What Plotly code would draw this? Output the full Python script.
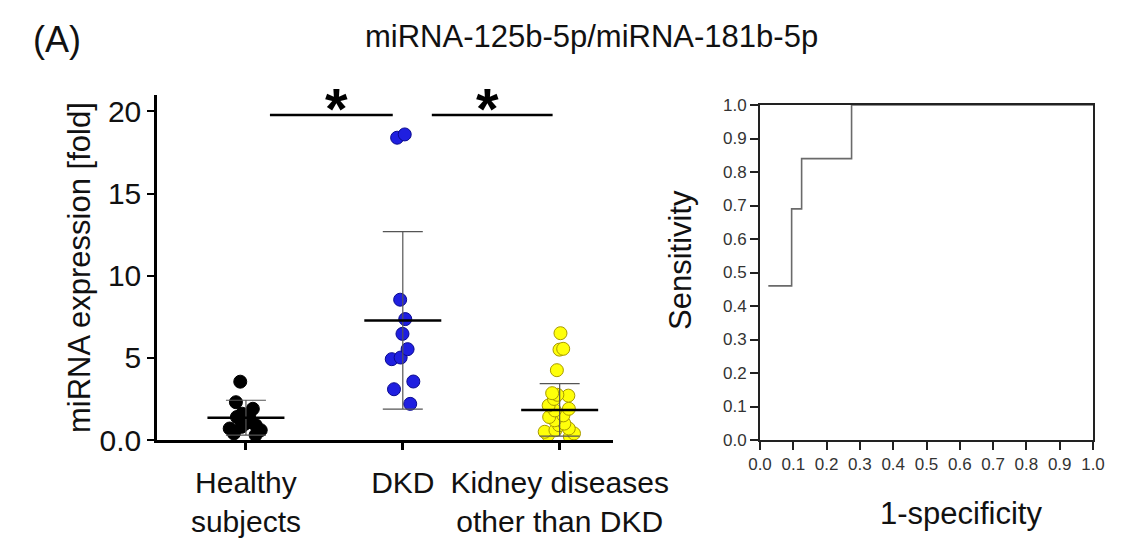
import plotly.graph_objects as go

# ---------------- data ----------------
categories = ["Healthy<br>subjects", "DKD", "Kidney diseases<br>other than DKD"]
healthy_vals = [3.55, 2.3, 1.9, 1.6, 1.5, 1.4, 1.2, 1.1, 1.0, 0.9, 0.8, 0.7, 0.6, 0.4, 0.3]
dkd_vals = [18.6, 18.4, 8.54, 7.36, 6.46, 5.53, 5.02, 4.92, 3.56, 3.09, 2.2]
other_vals = [6.5, 5.55, 5.5, 4.25, 2.85, 2.75, 2.7, 2.5, 2.1, 1.9, 1.8, 1.5, 1.4,
              1.2, 1.0, 0.9, 0.7, 0.6, 0.5, 0.4, 0.3, 0.2]
group_means = [1.36, 7.28, 1.83]
group_sds = [1.06, 5.4, 1.6]
y_tickvals = [0, 5, 10, 15, 20]
y_ticktext = ["0.0", "5", "10", "15", "20"]

roc_fpr = [0.025, 0.095, 0.125, 0.275, 1.0]
roc_tpr = [0.46, 0.69, 0.84, 1.0, 1.0]
roc_ticks = [0.0, 0.1, 0.2, 0.3, 0.4, 0.5, 0.6, 0.7, 0.8, 0.9, 1.0]

FONT = "Liberation Sans, Arial, sans-serif"
W, H = 1127, 539

fig = go.Figure()

groups = [
    (healthy_vals, "#000000", "#000000", 0.35),
    (dkd_vals, "#1f1fe0", "#0a0a90", 0.26),
    (other_vals, "#ffff0a", "#a89a00", 0.36),
]
for i, (vals, fill, edge, jit) in enumerate(groups):
    fig.add_trace(go.Box(
        x=[i] * len(vals), y=vals, boxpoints="all", jitter=jit, pointpos=0,
        fillcolor="rgba(0,0,0,0)", line=dict(width=0, color="rgba(0,0,0,0)"),
        whiskerwidth=0,
        marker=dict(size=13, color=fill, line=dict(color=edge, width=1)),
        showlegend=False, xaxis="x", yaxis="y", width=0.7,
    ))

# mean +/- SD
for i in range(3):
    fig.add_trace(go.Scatter(
        x=[i], y=[group_means[i]], mode="markers",
        marker=dict(symbol="line-ew", size=55, line=dict(width=2.5, color="#000000")),
        error_y=dict(type="data", array=[group_sds[i]], symmetric=True,
                     color="#555555", thickness=1.2, width=20),
        showlegend=False, xaxis="x", yaxis="y",
    ))

# ROC curve
fig.add_trace(go.Scatter(
    x=roc_fpr, y=roc_tpr, mode="lines", line=dict(color="#6a6a6a", width=1.6, shape="hv"),
    showlegend=False, xaxis="x2", yaxis="y2",
))

# significance bars
for x0, x1 in [(0.153, 0.936), (1.185, 1.955)]:
    fig.add_shape(type="line", xref="x", yref="y", x0=x0, x1=x1, y0=19.78, y1=19.78,
                  line=dict(color="#000000", width=2.5))
for xs in [0.58, 1.54]:
    fig.add_annotation(x=xs, y=20.2, xref="x", yref="y", text="<b>*</b>", showarrow=False,
                       font=dict(size=58, color="#000000", family=FONT),
                       xanchor="center", yanchor="middle")

def px_x(p):
    return p / W

def px_y(p):
    return 1 - p / H

def label(x, y, text, size, angle=0):
    fig.add_annotation(x=px_x(x), y=px_y(y), xref="paper", yref="paper", text=text,
                       showarrow=False, textangle=angle, xanchor="center", yanchor="middle",
                       font=dict(size=size, color="#111111", family=FONT))

# texts
label(591, 37, "miRNA-125b-5p/miRNA-181b-5p", 31)
label(57, 39, "(A)", 36)
label(79, 268, "miRNA expression [fold]", 31, -90)
label(680, 260, "Sensitivity", 31, -90)
label(961, 513, "1-specificity", 31)

common = dict(showgrid=False, zeroline=False, automargin=False, showline=True)
fig.update_layout(
    template="none",
    width=W, height=H, margin=dict(l=0, r=0, t=0, b=0, pad=0, autoexpand=False),
    paper_bgcolor="white", plot_bgcolor="white", boxmode="overlay",
    font=dict(family=FONT, color="#111111"),
    xaxis=dict(domain=[px_x(157), px_x(613)], range=[-0.567, 2.34],
               tickvals=[0, 1, 2], ticktext=categories, ticks="outside", ticklen=7,
               tickwidth=2.5, tickcolor="#000000", linecolor="#000000",
               linewidth=2.5, tickfont=dict(size=30, color="#111111", family=FONT),
               ticklabelstandoff=7, anchor="y", **common),
    yaxis=dict(domain=[px_y(440), px_y(95)], range=[0, 21], tickvals=y_tickvals,
               ticktext=y_ticktext, ticks="outside", ticklen=7, tickwidth=2,
               tickcolor="#000000", linecolor="#000000", linewidth=2.5,
               tickfont=dict(size=30, color="#111111", family=FONT), anchor="x", **common),
    xaxis2=dict(domain=[px_x(760), px_x(1093)], range=[0, 1], tickvals=roc_ticks,
                tickformat=".1f", ticks="outside", ticklen=8, tickwidth=2,
                tickcolor="#222222", linecolor="#222222", linewidth=2,
                mirror=True, tickfont=dict(size=17, color="#333333", family=FONT),
                anchor="y2", **common),
    yaxis2=dict(domain=[px_y(440), px_y(105)], range=[0, 1], tickvals=roc_ticks,
                tickformat=".1f", ticks="outside", ticklen=8, tickwidth=2,
                tickcolor="#222222", linecolor="#222222", linewidth=2,
                mirror=True, tickfont=dict(size=17, color="#333333", family=FONT),
                anchor="x2", **common),
)

fig.write_html("out.html")
